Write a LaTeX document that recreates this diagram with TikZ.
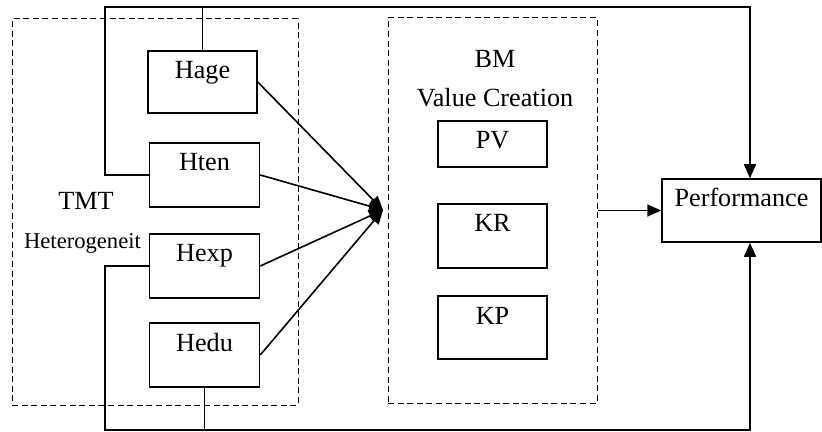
\documentclass[tikz,border=0pt]{standalone}
\usepackage{fontspec}
\setmainfont{Liberation Serif}
\usepackage{tikz}
\usetikzlibrary{arrows.meta,positioning}
\tikzset{
  varbox/.style={rectangle,draw=black,line width=0.75pt,inner xsep=0pt,inner ysep=0pt,
    minimum width=55pt,text height=14pt,text depth=18pt},
  groupbox/.style={rectangle,draw=black,line width=0.5pt,dash pattern=on 3pt off 1.8pt},
  linkline/.style={line width=0.8pt,draw=black},
  linkarrow/.style={-{Triangle[length=7pt,width=6pt]},line width=0.8pt,draw=black}
}

\begin{document}
\begin{tikzpicture}[x=0.5pt,y=-0.5pt,font=\fontsize{13.1}{15.5}\selectfont]
  \useasboundingbox (0,0) rectangle (822,432);
  % groups
  \node[groupbox,minimum width=143pt,minimum height=193pt] (tmtgroup) at (155,212) {};
  \node[groupbox,minimum width=104.5pt,minimum height=192.5pt] (bmgroup) at (492.5,210.5) {};
  % TMT heterogeneity
  \node[varbox,minimum width=54.5pt,text depth=17pt] (hage) at (202.5,82) {Hage};
  \node[varbox] (hten) at (204.5,175) {Hten};
  \node[varbox] (hexp) at (204.5,266) {Hexp};
  \node[varbox] (hedu) at (204.5,355) {Hedu};
  \node[anchor=base] (tmtlabel) at (86,210) {TMT};
  \node[anchor=base,font=\fontsize{11.3}{13}\selectfont] (hetlabel) at (82.5,249) {Heterogeneit};
  % BM value creation
  \node[anchor=base] (bmlabel) at (495,68) {BM};
  \node[anchor=base] (vclabel) at (495,107) {Value Creation};
  \node[varbox,minimum width=54.5pt,text depth=9pt] (pv) at (492.5,144) {PV};
  \node[varbox,minimum width=54.5pt] (kr) at (492.5,236) {KR};
  \node[varbox,minimum width=54.5pt,text depth=17.5pt] (kp) at (492.5,327.5) {KP};
  % outcome
  \node[varbox,minimum width=79.5pt,text depth=17.5pt] (perf) at (741.5,210.5) {Performance};
  \coordinate (hub) at (383,210);
  \coordinate (topl) at (105,7);
  \coordinate (topr) at (750,7);
  \coordinate (botl) at (105,430);
  \coordinate (botr) at (750,430);
  \draw[linkarrow] (hage.east) -- (hub);
  \draw[linkarrow] (hten.east) -- (hub);
  \draw[linkarrow] (hexp.east) -- (hub);
  \draw[linkarrow] (hedu.east) -- (hub);
  \draw[linkarrow] (bmgroup.east) -- (perf.west);
  \draw[linkarrow] (hten.west) -| (topl) -- (topr) -- (topr |- perf.north);
  \draw[linkline] (hage.north) -- (hage.north |- topl);
  \draw[linkarrow] (hexp.west) -| (botl) -- (botr) -- (botr |- perf.south);
  \draw[linkline] (hedu.south) -- (hedu.south |- botl);
\end{tikzpicture}
\end{document}
